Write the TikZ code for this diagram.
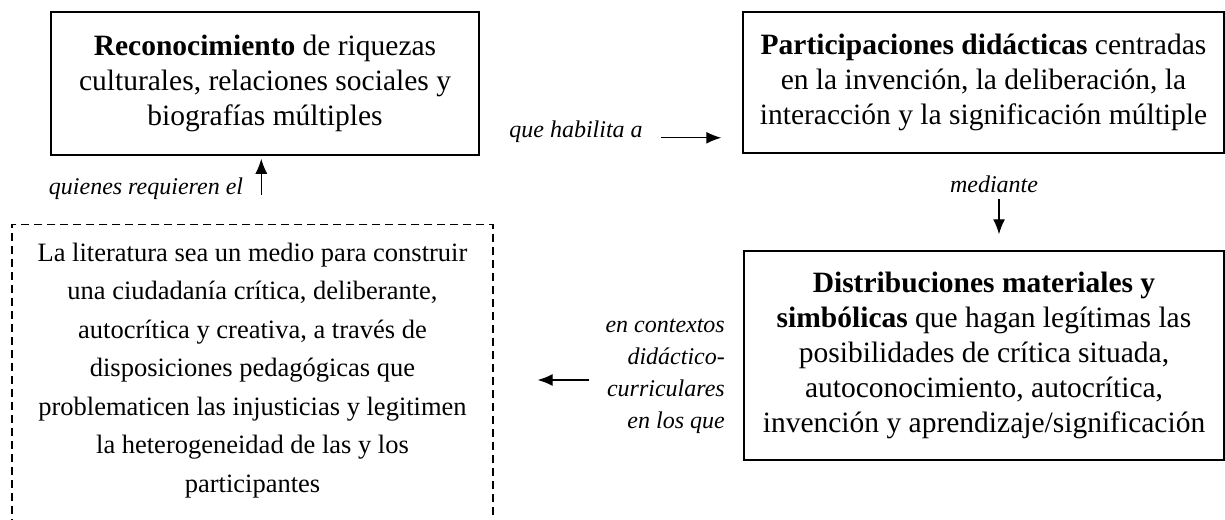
\documentclass[tikz,border=0pt]{standalone}
\usepackage{fontspec}
\setmainfont{Liberation Serif}
\usetikzlibrary{arrows.meta}
\tikzset{>={Latex[length=15pt,width=12pt]}}
\tikzset{
  box/.style={draw,line width=1.5pt,align=center,inner sep=0pt,
    font=\fontsize{29.5}{35}\selectfont},
  dashbox/.style={box,dash pattern=on 8pt off 5pt,line width=1.3pt,
    font=\fontsize{26.5}{38.5}\selectfont},
  lbl/.style={align=center,inner sep=0pt,
    font=\fontsize{24}{32}\selectfont\itshape},
  link/.style={->,line width=1.3pt}
}

\begin{document}
\begin{tikzpicture}[x=1pt,y=-1pt]
    \useasboundingbox (0,0) rectangle (1225,519);
    \node[box,minimum width=428pt,minimum height=143pt] (recon) at (265,83.5)
      {\textbf{Reconocimiento} de riquezas\\culturales, relaciones sociales y\\biografías múltiples};
    \node[box,minimum width=481pt,minimum height=141pt] (partic) at (983.5,82.5)
      {\textbf{Participaciones didácticas} centradas\\en la invención, la deliberación, la\\interacción y la significación múltiple};
    \node[box,minimum width=480pt,minimum height=209pt] (distrib) at (984,355.5)
      {\textbf{Distribuciones materiales y}\\\textbf{simbólicas} que hagan legítimas las\\posibilidades de crítica situada,\\autoconocimiento, autocrítica,\\invención y aprendizaje/significación};
    \node[dashbox,minimum width=481pt,inner ysep=18pt,text depth=70pt,anchor=north] (lit) at (252.5,224)
      {La literatura sea un medio para construir\\una ciudadanía crítica, deliberante,\\autocrítica y creativa, a través de\\disposiciones pedagógicas que\\problematicen las injusticias y legitimen\\la heterogeneidad de las y los\\participantes};
    \node[lbl] (habilita) at (576,132) {que habilita a};
    \node[lbl] (requieren) at (146,189) {quienes requieren el};
    \node[lbl] (mediante) at (994,184) {mediante};
    \node[lbl,align=right,anchor=east] (contextos) at (725,376)
      {en contextos\\didáctico-\\curriculares\\en los que};
    \draw[link,shorten <=18pt,shorten >=21pt] (habilita.base east) -- (habilita.base east -| partic.west);
    \draw[link,shorten >=3pt] ([xshift=18pt]requieren.base east) -- ([xshift=18pt]requieren.base east |- recon.south);
    \draw[link,shorten <=6pt,shorten >=16pt] ([xshift=5pt]mediante.south) -- ([xshift=5pt]mediante.south |- distrib.north);
    \draw[link,shorten <=16pt,shorten >=44pt] ([yshift=-4pt]contextos.west) -- ([yshift=-4pt]contextos.west -| lit.east);
\end{tikzpicture}
\end{document}
